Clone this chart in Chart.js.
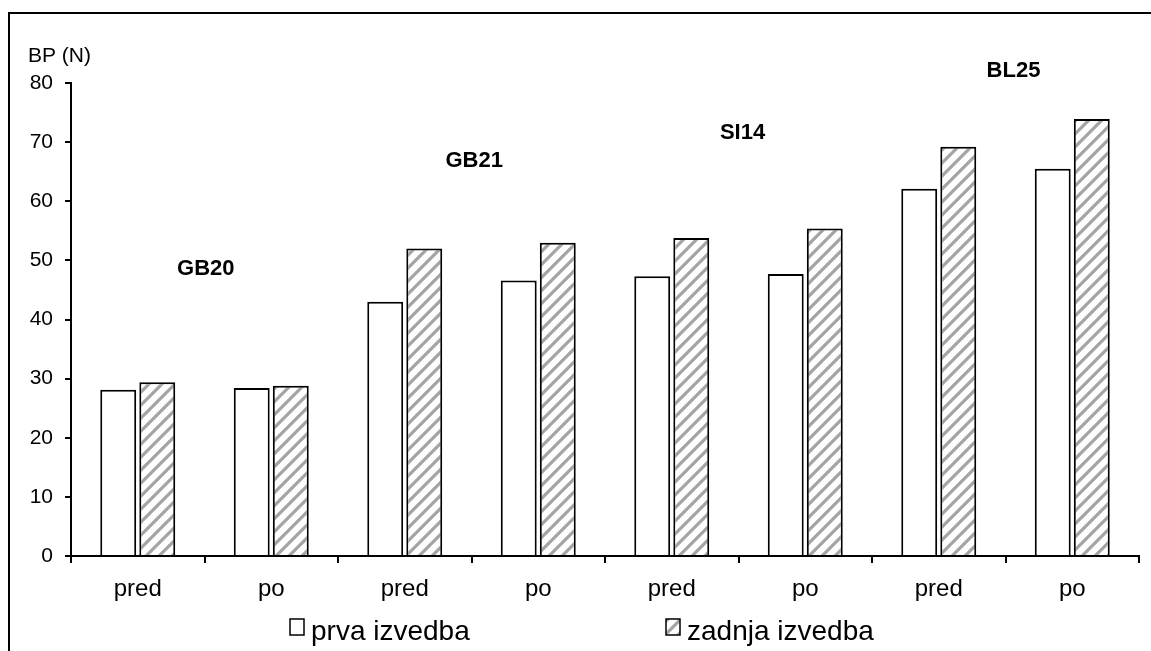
<!DOCTYPE html>
<html>
<head>
<meta charset="utf-8">
<script src="https://cdn.jsdelivr.net/npm/chart.js@4.4.0/dist/chart.umd.min.js"></script>
<style>
  html, body { margin: 0; padding: 0; background: #fff; }
  #wrap { width: 1151px; height: 651px; position: relative; }
</style>
</head>
<body>
<div id="wrap"><canvas id="myChart" width="1151" height="651"></canvas></div>
<script>
// data
const categories = ["pred", "po", "pred", "po", "pred", "po", "pred", "po"];
const prvaIzvedba = [28.1, 28.4, 43.0, 46.6, 47.3, 47.7, 62.1, 65.5];
const zadnjaIzvedba = [29.4, 28.8, 52.0, 53.0, 53.8, 55.4, 69.2, 73.9];
const seriesNames = ["prva izvedba", "zadnja izvedba"];
const yTicks = [0, 10, 20, 30, 40, 50, 60, 70, 80];
const axisTitle = "BP (N)";

// group names and where they sit (category index, value)
const groupNames = ["GB20", "GB21", "SI14", "BL25"];
const groupAtIndex = [0.51, 2.52, 4.53, 6.56];
const groupAtValue = [48.5, 66.8, 71.5, 82.0];

const FONT = "'Liberation Sans', Arial, sans-serif";

// hatch pattern for second series
function makeHatch() {
  const s = 13;
  const c = document.createElement("canvas");
  c.width = s; c.height = s;
  const g = c.getContext("2d");
  g.fillStyle = "#ffffff";
  g.fillRect(0, 0, s, s);
  g.strokeStyle = "#a4a4a4";
  g.lineWidth = 3.2;
  g.beginPath();
  g.moveTo(-s / 2, s / 2); g.lineTo(s / 2, -s / 2);
  g.moveTo(0, s); g.lineTo(s, 0);
  g.moveTo(s / 2, s * 1.5); g.lineTo(s * 1.5, s / 2);
  g.stroke();
  return g.createPattern(c, "repeat");
}
const hatch = makeHatch();

const extras = {
  id: "extras",
  beforeDraw(chart) {
    const ctx = chart.ctx;
    ctx.save();
    ctx.strokeStyle = "#000";
    ctx.lineWidth = 2;
    ctx.beginPath();
    ctx.moveTo(9, 651);
    ctx.lineTo(9, 13);
    ctx.lineTo(1151, 13);
    ctx.stroke();
    ctx.restore();
  },
  afterDraw(chart) {
    const ctx = chart.ctx;
    const x = chart.scales.x, y = chart.scales.y;
    ctx.save();
    ctx.fillStyle = "#000";
    // axis title
    ctx.font = "21px " + FONT;
    ctx.textAlign = "left";
    ctx.textBaseline = "middle";
    ctx.fillText(axisTitle, 28, 56);
    // group labels
    ctx.font = "bold 22px " + FONT;
    ctx.textAlign = "center";
    groupNames.forEach((name, i) => {
      ctx.fillText(name, x.getPixelForValue(groupAtIndex[i]), y.getPixelForValue(groupAtValue[i]));
    });
    // legend
    const legendX = [290, 666];
    ctx.font = "28px " + FONT;
    ctx.textAlign = "left";
    ctx.textBaseline = "alphabetic";
    seriesNames.forEach((name, i) => {
      const ds = chart.data.datasets[i];
      ctx.fillStyle = ds.backgroundColor;
      ctx.fillRect(legendX[i], 619, 14, 16);
      ctx.strokeStyle = "#000";
      ctx.lineWidth = 1.5;
      ctx.strokeRect(legendX[i], 619, 14, 16);
      ctx.fillStyle = "#000";
      ctx.fillText(name, legendX[i] + 21, 640);
    });
    ctx.restore();
  }
};

const data = {
  labels: categories,
  datasets: [
    {
      label: seriesNames[0],
      data: prvaIzvedba,
      backgroundColor: "#ffffff",
      borderColor: "#000000",
      borderWidth: 2,
      categoryPercentage: 0.585,
      barPercentage: 0.92
    },
    {
      label: seriesNames[1],
      data: zadnjaIzvedba,
      backgroundColor: hatch,
      borderColor: "#000000",
      borderWidth: 2,
      categoryPercentage: 0.585,
      barPercentage: 0.92
    }
  ]
};

const config = {
  type: "bar",
  data: data,
  options: {
    responsive: false,
    animation: false,
    layout: { padding: { top: 83, right: 12, left: 0, bottom: 0 } },
    plugins: {
      legend: { display: false },
      tooltip: { enabled: false }
    },
    scales: {
      x: {
        afterFit(scale) { scale.height = 95; },
        grid: {
          offset: true,
          drawOnChartArea: false,
          drawTicks: true,
          tickLength: 7,
          color: "#000",
          lineWidth: 2
        },
        border: { display: true, color: "#000", width: 2 },
        ticks: {
          color: "#000",
          font: { family: FONT, size: 24 },
          padding: 12,
          maxRotation: 0
        }
      },
      y: {
        min: 0,
        max: 80,
        afterFit(scale) { scale.width = 71; },
        afterBuildTicks(scale) { scale.ticks = yTicks.map(v => ({ value: v })); },
        grid: {
          drawOnChartArea: false,
          drawTicks: true,
          tickLength: 6,
          color: "#000",
          lineWidth: 2
        },
        border: { display: true, color: "#000", width: 2 },
        ticks: {
          color: "#000",
          font: { family: FONT, size: 21 },
          padding: 12
        }
      }
    }
  },
  plugins: [extras]
};

const myChart = new Chart(document.getElementById("myChart"), config);
</script>
</body>
</html>
